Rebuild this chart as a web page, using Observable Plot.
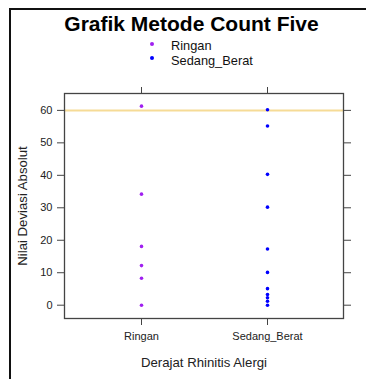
<!DOCTYPE html>
<html>
<head>
<meta charset="utf-8">
<script src="https://cdn.jsdelivr.net/npm/d3@7"></script>
<script src="https://cdn.jsdelivr.net/npm/@observablehq/plot@0.6"></script>
<style>
  html, body { margin: 0; padding: 0; background: #fff; }
  #wrap { position: relative; width: 366px; height: 379px; overflow: hidden; font-family: "Liberation Sans", Arial, sans-serif; }
  #border { position: absolute; left: 9px; top: 8px; width: 400px; height: 400px; border-top: 2px solid #111; border-left: 2px solid #111; }
  #title { position: absolute; left: 0; width: 383px; top: 12.7px; text-align: center; font-weight: bold; font-size: 21px; line-height: 22px; color: #000; }
  .leg { position: absolute; left: 171px; font-size: 12.8px; line-height: 12px; color: #111; white-space: nowrap; }
  .dot { position: absolute; width: 4px; height: 4px; border-radius: 50%; }
  #chart { position: absolute; left: 0; top: 70px; }
</style>
</head>
<body>
<div id="wrap">
  <div id="border"></div>
  <div id="title"></div>
  <div id="legend"></div>
  <div id="chart"></div>
</div>
<script>
const titleText = "Grafik Metode Count Five";
const categories = ["Ringan", "Sedang_Berat"];
const ringanValues = [61.3, 34.2, 18.1, 12.2, 8.3, 0];
const sedangBeratValues = [60.2, 55.2, 40.3, 30.2, 17.3, 10.1, 5.1, 3.3, 2.3, 1.2, 0];
const yTicks = [0, 10, 20, 30, 40, 50, 60];
const cutoffValue = 60;
const seriesColors = ["#A020F0", "#0000FF"];
const xLabel = "Derajat Rhinitis Alergi";
const yLabel = "Nilai Deviasi Absolut";

document.getElementById("title").textContent = titleText;

// legend
const legend = document.getElementById("legend");
const legTops = [40.1, 54.6];
const dotTops = [42.3, 56.3];
categories.forEach((c, i) => {
  const d = document.createElement("div");
  d.className = "dot";
  d.style.left = "150px";
  d.style.top = dotTops[i] + "px";
  d.style.background = seriesColors[i];
  legend.appendChild(d);
  const t = document.createElement("div");
  t.className = "leg";
  t.style.top = legTops[i] + "px";
  t.textContent = c;
  legend.appendChild(t);
});

const data = [
  ...ringanValues.map(v => ({group: categories[0], value: v})),
  ...sedangBeratValues.map(v => ({group: categories[1], value: v}))
];

const chart = Plot.plot({
  width: 366,
  height: 309,
  marginTop: 23,
  marginBottom: 61,
  marginLeft: 64,
  marginRight: 23,
  style: { fontFamily: "'Liberation Sans', Arial, sans-serif", fontSize: "11px", color: "#222", background: "transparent" },
  x: { type: "point", domain: categories, padding: 0.6 },
  y: { domain: [-4.1, 65.2] },
  color: { domain: categories, range: seriesColors },
  marks: [
    Plot.ruleY([cutoffValue], { stroke: "#F6DB96", strokeWidth: 2 }),
    Plot.frame({ stroke: "#444", strokeWidth: 1.3 }),
    Plot.axisY(yTicks, { anchor: "left", tickSize: 7, tickPadding: 5, label: null, stroke: "#444", fill: "#222" }),
    Plot.axisY(yTicks, { anchor: "right", tickSize: 7, tickFormat: () => "", label: null, stroke: "#444" }),
    Plot.axisX(categories, { anchor: "bottom", tickSize: 7, tickPadding: 7, label: null, stroke: "#444", fill: "#222" }),
    Plot.axisX(categories, { anchor: "top", tickSize: 7, tickFormat: () => "", label: null, stroke: "#444" }),
    Plot.dot(data, { x: "group", y: "value", r: 1.8, fill: "group", stroke: null }),
    Plot.text([yLabel], { frameAnchor: "left", dx: -42, rotate: -90, textAnchor: "middle", lineAnchor: "middle", fontSize: 13.2, fill: "#222" }),
    Plot.text([xLabel], { frameAnchor: "bottom", dy: 44, textAnchor: "middle", lineAnchor: "middle", fontSize: 13.2, fill: "#222" })
  ]
});
document.getElementById("chart").appendChild(chart);
</script>
</body>
</html>
